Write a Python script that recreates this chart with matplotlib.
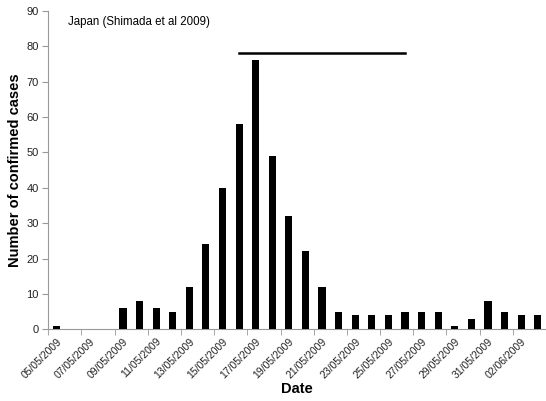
import numpy as np
import matplotlib.pyplot as plt

plt.rcParams['font.family'] = ['Liberation Sans', 'DejaVu Sans']

# ДАННЫЕ
dates = ['05/05/2009', '06/05/2009', '07/05/2009', '08/05/2009', '09/05/2009',
         '10/05/2009', '11/05/2009', '12/05/2009', '13/05/2009', '14/05/2009',
         '15/05/2009', '16/05/2009', '17/05/2009', '18/05/2009', '19/05/2009',
         '20/05/2009', '21/05/2009', '22/05/2009', '23/05/2009', '24/05/2009',
         '25/05/2009', '26/05/2009', '27/05/2009', '28/05/2009', '29/05/2009',
         '30/05/2009', '31/05/2009', '01/06/2009', '02/06/2009', '03/06/2009']
cases = [1, 0, 0, 0, 6, 8, 6, 5, 12, 24, 40, 58, 76, 49, 32, 22, 12, 5, 4, 4,
         4, 5, 5, 5, 1, 3, 8, 5, 4, 4]
bar_start = '16/05/2009'
bar_end = '26/05/2009'
bar_level = 78

x = np.arange(len(dates))

fig = plt.figure(figsize=(5.46, 4.01), dpi=100)
ax = fig.add_axes([0.0885, 0.1788, 0.9115, 0.7945])

ax.bar(x, cases, width=0.43, color='black', zorder=3)
ax.plot([dates.index(bar_start), dates.index(bar_end)], [bar_level, bar_level],
        color='black', linewidth=1.8)

ax.set_xlim(-0.5, 28.95)
ax.set_ylim(0, 90)
ax.set_yticks(np.arange(0, 91, 10))

# подписи через день, засечки на границах категорий
ax.set_xticks(x[::2])
ax.set_xticklabels(dates[::2], rotation=45, ha='right', rotation_mode='anchor',
                   fontsize=7.5, color='#222222')
ax.set_xticks(np.arange(-0.5, len(dates), 2), minor=True)
ax.tick_params(axis='x', which='major', length=0, pad=5)
ax.tick_params(axis='x', which='minor', length=4, color='#999999', direction='out')
ax.tick_params(axis='y', length=4, color='#999999', labelsize=8,
               labelcolor='#222222', pad=3)

for s in ['top', 'right']:
    ax.spines[s].set_visible(False)
for s in ['left', 'bottom']:
    ax.spines[s].set_color('#999999')
    ax.spines[s].set_linewidth(0.8)

ax.set_ylabel('Number of confirmed cases', fontsize=10.5, fontweight='bold', labelpad=3)
ax.set_xlabel('Date', fontsize=10.5, fontweight='bold', labelpad=1)
ax.text(0.04, 0.965, 'Japan (Shimada et al 2009)', transform=ax.transAxes,
        fontsize=8.3, va='center')

fig.savefig('out.png', dpi=100)
